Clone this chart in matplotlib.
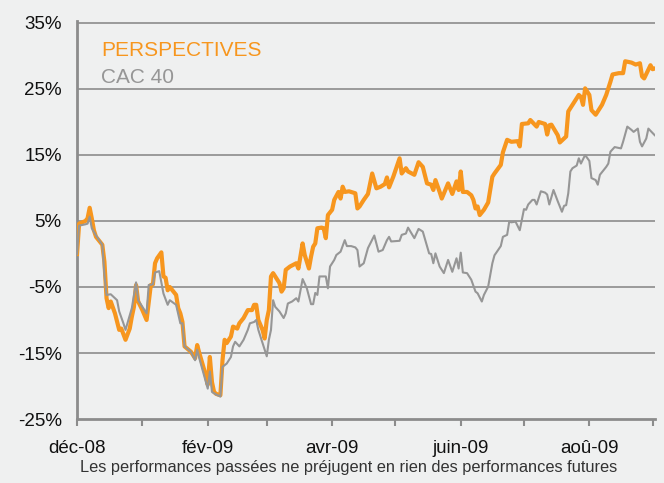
import datetime as dt
import matplotlib
matplotlib.use("Agg")
import matplotlib.pyplot as plt
import matplotlib.dates as mdates
from matplotlib.ticker import FixedLocator, FixedFormatter

# day offsets from 1 Dec 2008, performance in %
persp_days = [0, 1, 4, 5, 6, 7, 8, 9, 12, 13, 14, 15, 16, 18, 20, 21, 23, 25, 26, 27,
              28, 29, 31, 33, 35, 36, 37, 38, 40, 41, 42, 43, 44, 47, 48, 49, 50, 51,
              54, 56, 57, 58, 61, 62, 63, 64, 65, 66, 68, 69, 70, 71, 73, 74, 76, 77,
              79, 81, 83, 84, 85, 86, 88, 89, 90, 91, 92, 93, 96, 97, 98, 99, 101, 104,
              105, 107, 108, 110, 111, 112, 113, 114, 116, 117, 118, 119, 121, 122, 124,
              125, 126, 127, 129, 132, 133, 134, 136, 138, 140, 142, 144, 146, 147, 148,
              150, 153, 154, 156, 157, 160, 162, 164, 166, 168, 169, 170, 172, 173, 176,
              178, 180, 181, 182, 183, 185, 187, 188, 189, 190, 191, 193, 195, 197, 198,
              201, 202, 204, 206, 209, 210, 211, 214, 215, 218, 219, 222, 223, 224, 225,
              228, 229, 232, 233, 236, 238, 239, 240, 241, 243, 244, 246, 249, 251, 253,
              254, 257, 259, 260, 263, 265, 267, 268, 269, 272, 273, 274]
persp_values = [0.0, 4.6, 5.0, 5.4, 7.0, 5.4, 3.6, 2.6, 1.4, -1.2, -6.7, -8.2, -7.2, -9.0,
                -11.5, -11.3, -13.0, -11.3, -9.5, -8.0, -4.7, -7.2, -8.5, -10.0, -4.7,
                -4.6, -1.4, -0.65, 0.25, -3.4, -3.6, -5.5, -5.0, -6.2, -8.2, -9.0, -10.3,
                -14.0, -14.8, -15.8, -13.8, -15.0, -18.3, -19.8, -15.6, -19.4, -20.9,
                -21.2, -21.4, -16.1, -13.0, -13.5, -12.5, -11.0, -11.3, -10.5, -9.7,
                -8.5, -8.5, -7.7, -7.7, -10.0, -11.5, -12.8, -10.0, -8.5, -3.4, -2.9,
                -4.4, -5.7, -5.2, -2.4, -1.9, -1.4, -2.2, 1.6, -0.15, -2.2, -0.4, 1.1,
                1.6, 3.9, 4.0, 3.9, 2.4, 5.9, 6.7, 8.2, 9.4, 8.4, 10.2, 9.4, 9.5, 9.2,
                6.9, 7.2, 8.2, 9.1, 12.2, 9.95, 10.2, 10.6, 11.6, 10.1, 11.7, 14.5, 12.2,
                13.0, 12.5, 12.0, 13.9, 13.2, 10.7, 10.5, 9.7, 11.2, 9.4, 8.4, 10.7, 9.1,
                11.0, 9.7, 12.5, 9.4, 9.4, 8.9, 8.2, 6.9, 7.2, 5.9, 6.7, 7.8, 11.7, 12.2,
                13.5, 15.4, 17.3, 17.0, 17.1, 16.3, 19.7, 19.8, 20.3, 19.3, 20.0, 19.7,
                18.1, 19.5, 19.6, 18.0, 16.9, 17.8, 21.6, 23.1, 24.1, 23.8, 22.6, 25.1,
                24.1, 21.8, 21.1, 22.6, 24.1, 26.1, 27.2, 27.4, 27.4, 29.2, 29.0, 28.7,
                28.9, 26.9, 26.6, 28.6, 28.0, 28.1]

cac_days = [0, 1, 4, 5, 6, 7, 9, 12, 13, 14, 16, 19, 20, 22, 23, 26, 28, 29, 31, 33, 34,
            36, 37, 39, 41, 43, 44, 47, 49, 50, 51, 54, 56, 57, 58, 62, 63, 64, 66, 68,
            69, 71, 73, 74, 75, 77, 79, 81, 82, 84, 85, 86, 88, 90, 91, 92, 93, 94, 96,
            98, 99, 100, 102, 104, 105, 107, 109, 111, 112, 113, 114, 115, 118, 119, 120,
            122, 123, 125, 127, 128, 130, 132, 133, 134, 136, 138, 141, 143, 145, 147,
            148, 149, 153, 154, 156, 157, 160, 162, 164, 167, 168, 169, 170, 172, 174,
            176, 178, 180, 181, 182, 183, 185, 187, 189, 190, 192, 193, 195, 197, 198,
            201, 202, 204, 205, 206, 208, 210, 212, 213, 214, 216, 217, 218, 220, 222,
            223, 224, 226, 228, 230, 231, 232, 233, 234, 235, 237, 238, 239, 241, 243,
            244, 246, 247, 248, 251, 252, 253, 255, 258, 259, 261, 263, 264, 266, 267,
            268, 270, 271, 274]
cac_values = [0.0, 4.3, 4.5, 4.6, 5.65, 3.9, 2.8, 1.4, -3.2, -6.2, -6.1, -7.0, -8.7,
              -10.5, -11.5, -8.2, -4.3, -7.0, -8.0, -9.0, -4.7, -4.6, -2.8, -2.6, -6.0,
              -7.7, -7.0, -7.7, -10.5, -10.5, -14.0, -14.8, -16.1, -14.5, -15.8, -20.4,
              -17.8, -20.9, -21.3, -21.6, -17.1, -16.6, -15.6, -14.0, -13.3, -14.0,
              -13.0, -11.5, -10.5, -10.3, -10.0, -11.5, -13.5, -15.5, -13.0, -11.5,
              -7.0, -8.0, -8.7, -9.7, -9.0, -7.5, -7.2, -6.7, -7.2, -3.8, -5.2, -7.6,
              -7.6, -5.9, -6.2, -3.4, -3.4, -5.2, -1.9, -0.9, -0.15, 0.35, 2.1, 1.2,
              1.2, 1.0, 0.6, -1.9, -1.4, 0.9, 2.8, 0.35, 0.6, 2.1, 2.6, 1.9, 2.0, 2.9,
              3.1, 4.0, 2.4, 3.8, 3.4, 0.1, 0.0, -1.4, 0.1, -1.9, -2.9, -0.9, -2.7,
              -0.65, -2.2, 0.2, -2.8, -2.9, -3.9, -5.7, -5.95, -7.2, -6.2, -4.95, -1.4,
              -0.2, 1.2, 2.6, 2.9, 4.9, 4.8, 4.9, 3.6, 6.8, 6.7, 7.5, 8.2, 8.2, 7.5,
              9.5, 9.3, 9.0, 7.5, 9.7, 8.0, 6.4, 7.3, 7.4, 9.2, 12.5, 13.0, 13.4, 14.5,
              13.7, 15.0, 14.1, 11.5, 11.2, 10.5, 12.0, 13.2, 13.7, 15.5, 16.2, 16.0,
              17.0, 19.3, 18.8, 18.5, 19.0, 17.0, 16.3, 17.5, 19.0, 18.0]

y_ticks = [-25, -15, -5, 5, 15, 25, 35]
x_labels = ["déc-08", "fév-09", "avr-09", "juin-09", "aoû-09"]

start = dt.datetime(2008, 12, 1)
persp_dates = [start + dt.timedelta(days=d) for d in persp_days]
cac_dates = [start + dt.timedelta(days=d) for d in cac_days]

bg = "#eff0f0"
orange = "#f7961e"
grey = "#969696"
plt.rcParams["font.family"] = ["Liberation Sans", "DejaVu Sans"]

fig = plt.figure(figsize=(6.64, 4.83), dpi=100, facecolor=bg)
ax = fig.add_axes([0.116, 0.1325, 0.87, 0.824], facecolor=bg)

ax.plot(persp_dates, persp_values, color=orange, lw=3.0, zorder=3)
ax.plot(cac_dates, cac_values, color=grey, lw=1.5, zorder=4)

# a bit of headroom so the 35% gridline is not cut by the axes edge
ax.set_ylim(-25, 35.3)
ax.set_xlim(start, start + dt.timedelta(days=274))
ax.set_yticks(y_ticks)
ax.set_yticklabels([f"{v}%" for v in y_ticks])
for v in y_ticks[1:]:
    ax.axhline(v, color="#8c8c8c", lw=1.2, zorder=1)

months = [start + dt.timedelta(days=d) for d in (0, 31, 62, 90, 121, 151, 182, 212, 243, 273)]
major = [months[i] for i in (0, 2, 4, 6, 8)]
ax.xaxis.set_major_locator(FixedLocator(mdates.date2num(major)))
ax.xaxis.set_major_formatter(FixedFormatter(x_labels))
ax.xaxis.set_minor_locator(FixedLocator(mdates.date2num(months)))

for s in ("top", "right"):
    ax.spines[s].set_visible(False)
for s in ("left", "bottom"):
    ax.spines[s].set_color("#8c8c8c")
    ax.spines[s].set_linewidth(2)
ax.tick_params(axis="y", length=0, pad=11, labelsize=13.5, labelcolor="#111111")
ax.tick_params(axis="x", which="both", direction="out", length=5, width=1.5,
               color="#8c8c8c", pad=10, labelsize=13.5, labelcolor="#111111")

ax.text(0.042, 0.912, "PERSPECTIVES", color=orange, fontsize=15,
        transform=ax.transAxes, va="baseline")
ax.text(0.042, 0.844, "CAC 40", color=grey, fontsize=15,
        transform=ax.transAxes, va="baseline")

fig.text(0.525, 0.022, "Les performances passées ne préjugent en rien des performances futures",
         ha="center", va="baseline", fontsize=11.8, color="#333333")

fig.savefig("out.png", dpi=100, facecolor=bg)
